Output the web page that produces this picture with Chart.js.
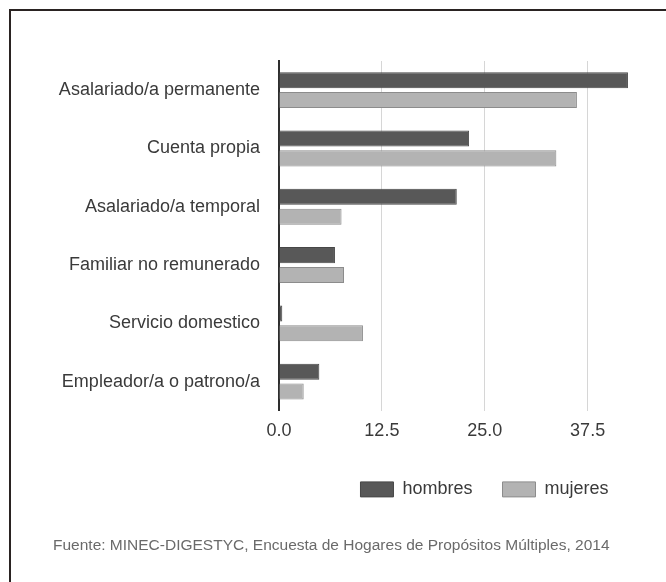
<!DOCTYPE html>
<html>
<head>
<meta charset="utf-8">
<script src="https://cdn.jsdelivr.net/npm/chart.js@4.4.1/dist/chart.umd.min.js"></script>
<style>
  html, body { margin: 0; padding: 0; background: #fff; overflow: hidden; width: 666px; height: 582px; }
  #frame { position: absolute; left: 9px; top: 9px; width: 1000px; height: 1000px;
           border-left: 2px solid #2a2322; border-top: 2px solid #2a2322; }
  #chart { position: absolute; left: 0; top: 0; }
</style>
</head>
<body>
<div id="frame"></div>
<canvas id="chart" width="916" height="582"></canvas>
<script>
    // Categories and values (percent)
    const categories = [
        'Asalariado/a permanente',
        'Cuenta propia',
        'Asalariado/a temporal',
        'Familiar no remunerado',
        'Servicio domestico',
        'Empleador/a o patrono/a'
    ];
    const hombres = [42.4, 23.1, 21.6, 6.8, 0.4, 4.9];
    const mujeres = [36.2, 33.7, 7.6, 7.9, 10.2, 3.0];
    const tickValues = [0, 12.5, 25, 37.5];
    const fuente = 'Fuente: MINEC-DIGESTYC, Encuesta de Hogares de Propósitos Múltiples, 2014';

    Chart.defaults.font.family = "'Liberation Sans', Arial, sans-serif";
    Chart.defaults.color = '#3a3a3a';

    const ctx = document.getElementById('chart').getContext('2d');
    new Chart(ctx, {
        type: 'bar',
        data: {
            labels: categories,
            datasets: [{
                label: 'hombres',
                data: hombres,
                backgroundColor: '#585858',
                borderColor: '#474747',
                borderWidth: 1,
                barPercentage: 0.81,
                categoryPercentage: 0.68
            }, {
                label: 'mujeres',
                data: mujeres,
                backgroundColor: '#b3b3b3',
                borderColor: '#8c8c8c',
                borderWidth: 1,
                barPercentage: 0.81,
                categoryPercentage: 0.68
            }]
        },
        options: {
            indexAxis: 'y',
            responsive: false,
            animation: false,
            layout: { padding: { left: 53, right: 0, top: 61, bottom: 27 } },
            scales: {
                x: {
                    min: 0,
                    max: 77.4,
                    afterBuildTicks: (scale) => { scale.ticks = tickValues.map(v => ({ value: v })); },
                    grid: { color: '#d6d6d6', lineWidth: 1, drawTicks: false },
                    border: { display: false },
                    ticks: {
                        padding: 9,
                        font: { size: 18 },
                        color: '#3a3a3a',
                        callback: (v) => Number(v).toFixed(1)
                    }
                },
                y: {
                    grid: { display: false, drawTicks: false },
                    border: { color: '#2e2e2e', width: 2 },
                    afterFit: (scale) => { scale.width = 226; },
                    ticks: { padding: 19, font: { size: 18 }, color: '#3a3a3a' }
                }
            },
            plugins: {
                legend: {
                    position: 'bottom',
                    labels: {
                        boxWidth: 33,
                        boxHeight: 15,
                        padding: 30,
                        font: { size: 18 },
                        color: '#3a3a3a'
                    }
                },
                title: {
                    display: true,
                    position: 'bottom',
                    align: 'start',
                    text: fuente,
                    color: '#6a6a6a',
                    font: { size: 15.5, weight: 'normal' },
                    padding: { top: 28, bottom: 0 }
                },
                tooltip: { enabled: false }
            }
        }
    });
</script>
</body>
</html>
